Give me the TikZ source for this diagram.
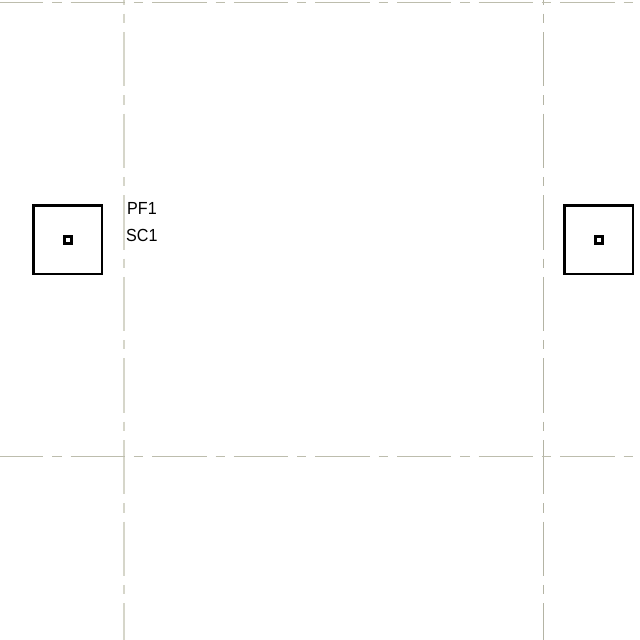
\documentclass[tikz,border=0pt]{standalone}
\usepackage{fontspec}
\setmainfont{Liberation Sans}
\tikzset{
  gridbase/.style={line cap=butt, dash pattern=on 54.3pt off 9pt on 9.3pt off 9pt},
  gridh/.style={gridbase, draw=gridh col, line width=1pt, dash phase=11pt},
  gridvl/.style={gridbase, draw=gridvl col, line width=1.8pt, dash phase=49.6pt},
  gridvr/.style={gridbase, draw=gridvr col, line width=1pt, dash phase=49.6pt},
  column/.style={draw=black, line width=2.4pt, fill=white, minimum size=68.4pt, inner sep=0pt, outer sep=0pt},
  rebar/.style={draw=black, line width=2.4pt, fill=white, minimum size=7.2pt, inner sep=0pt, outer sep=0pt},
  lab/.style={font=\fontsize{17.5}{17.5}\selectfont, anchor=west, inner sep=0pt, text=black, xscale=.92}
}
\definecolor{gridh col}{HTML}{BDBDAD}
\definecolor{gridvl col}{HTML}{D6D6CA}
\definecolor{gridvr col}{HTML}{B4B4A4}
\begin{document}
\begin{tikzpicture}[x=1pt,y=-1pt]
\useasboundingbox (0,0) rectangle (640,640);
\fill[white] (0,0) rectangle (640,640);
\coordinate (hat) at (0,2.5);
\coordinate (hae) at (640,2.5);
\coordinate (hbt) at (0,456.5);
\coordinate (hbe) at (640,456.5);
\coordinate (vat) at (124.3,0);
\coordinate (vae) at (124.3,640);
\coordinate (vbt) at (543.5,0);
\coordinate (vbe) at (543.5,640);
\draw[gridvl] (vat) -- (vae);
\draw[gridvr] (vbt) -- (vbe);
\draw[gridh] (hat) -- (hae);
\draw[gridh] (hbt) -- (hbe);
\node[column] (c1) at (67.7,239.6) {};
\node[rebar] (r1) at (68,240) {};
\node[column] (c2) at (598.7,239.6) {};
\node[rebar] (r2) at (599,240) {};
\node[lab] (pf) at (127,208.5) {PF1};
\node[lab] (sc) at (126,235) {SC1};
\end{tikzpicture}
\end{document}
